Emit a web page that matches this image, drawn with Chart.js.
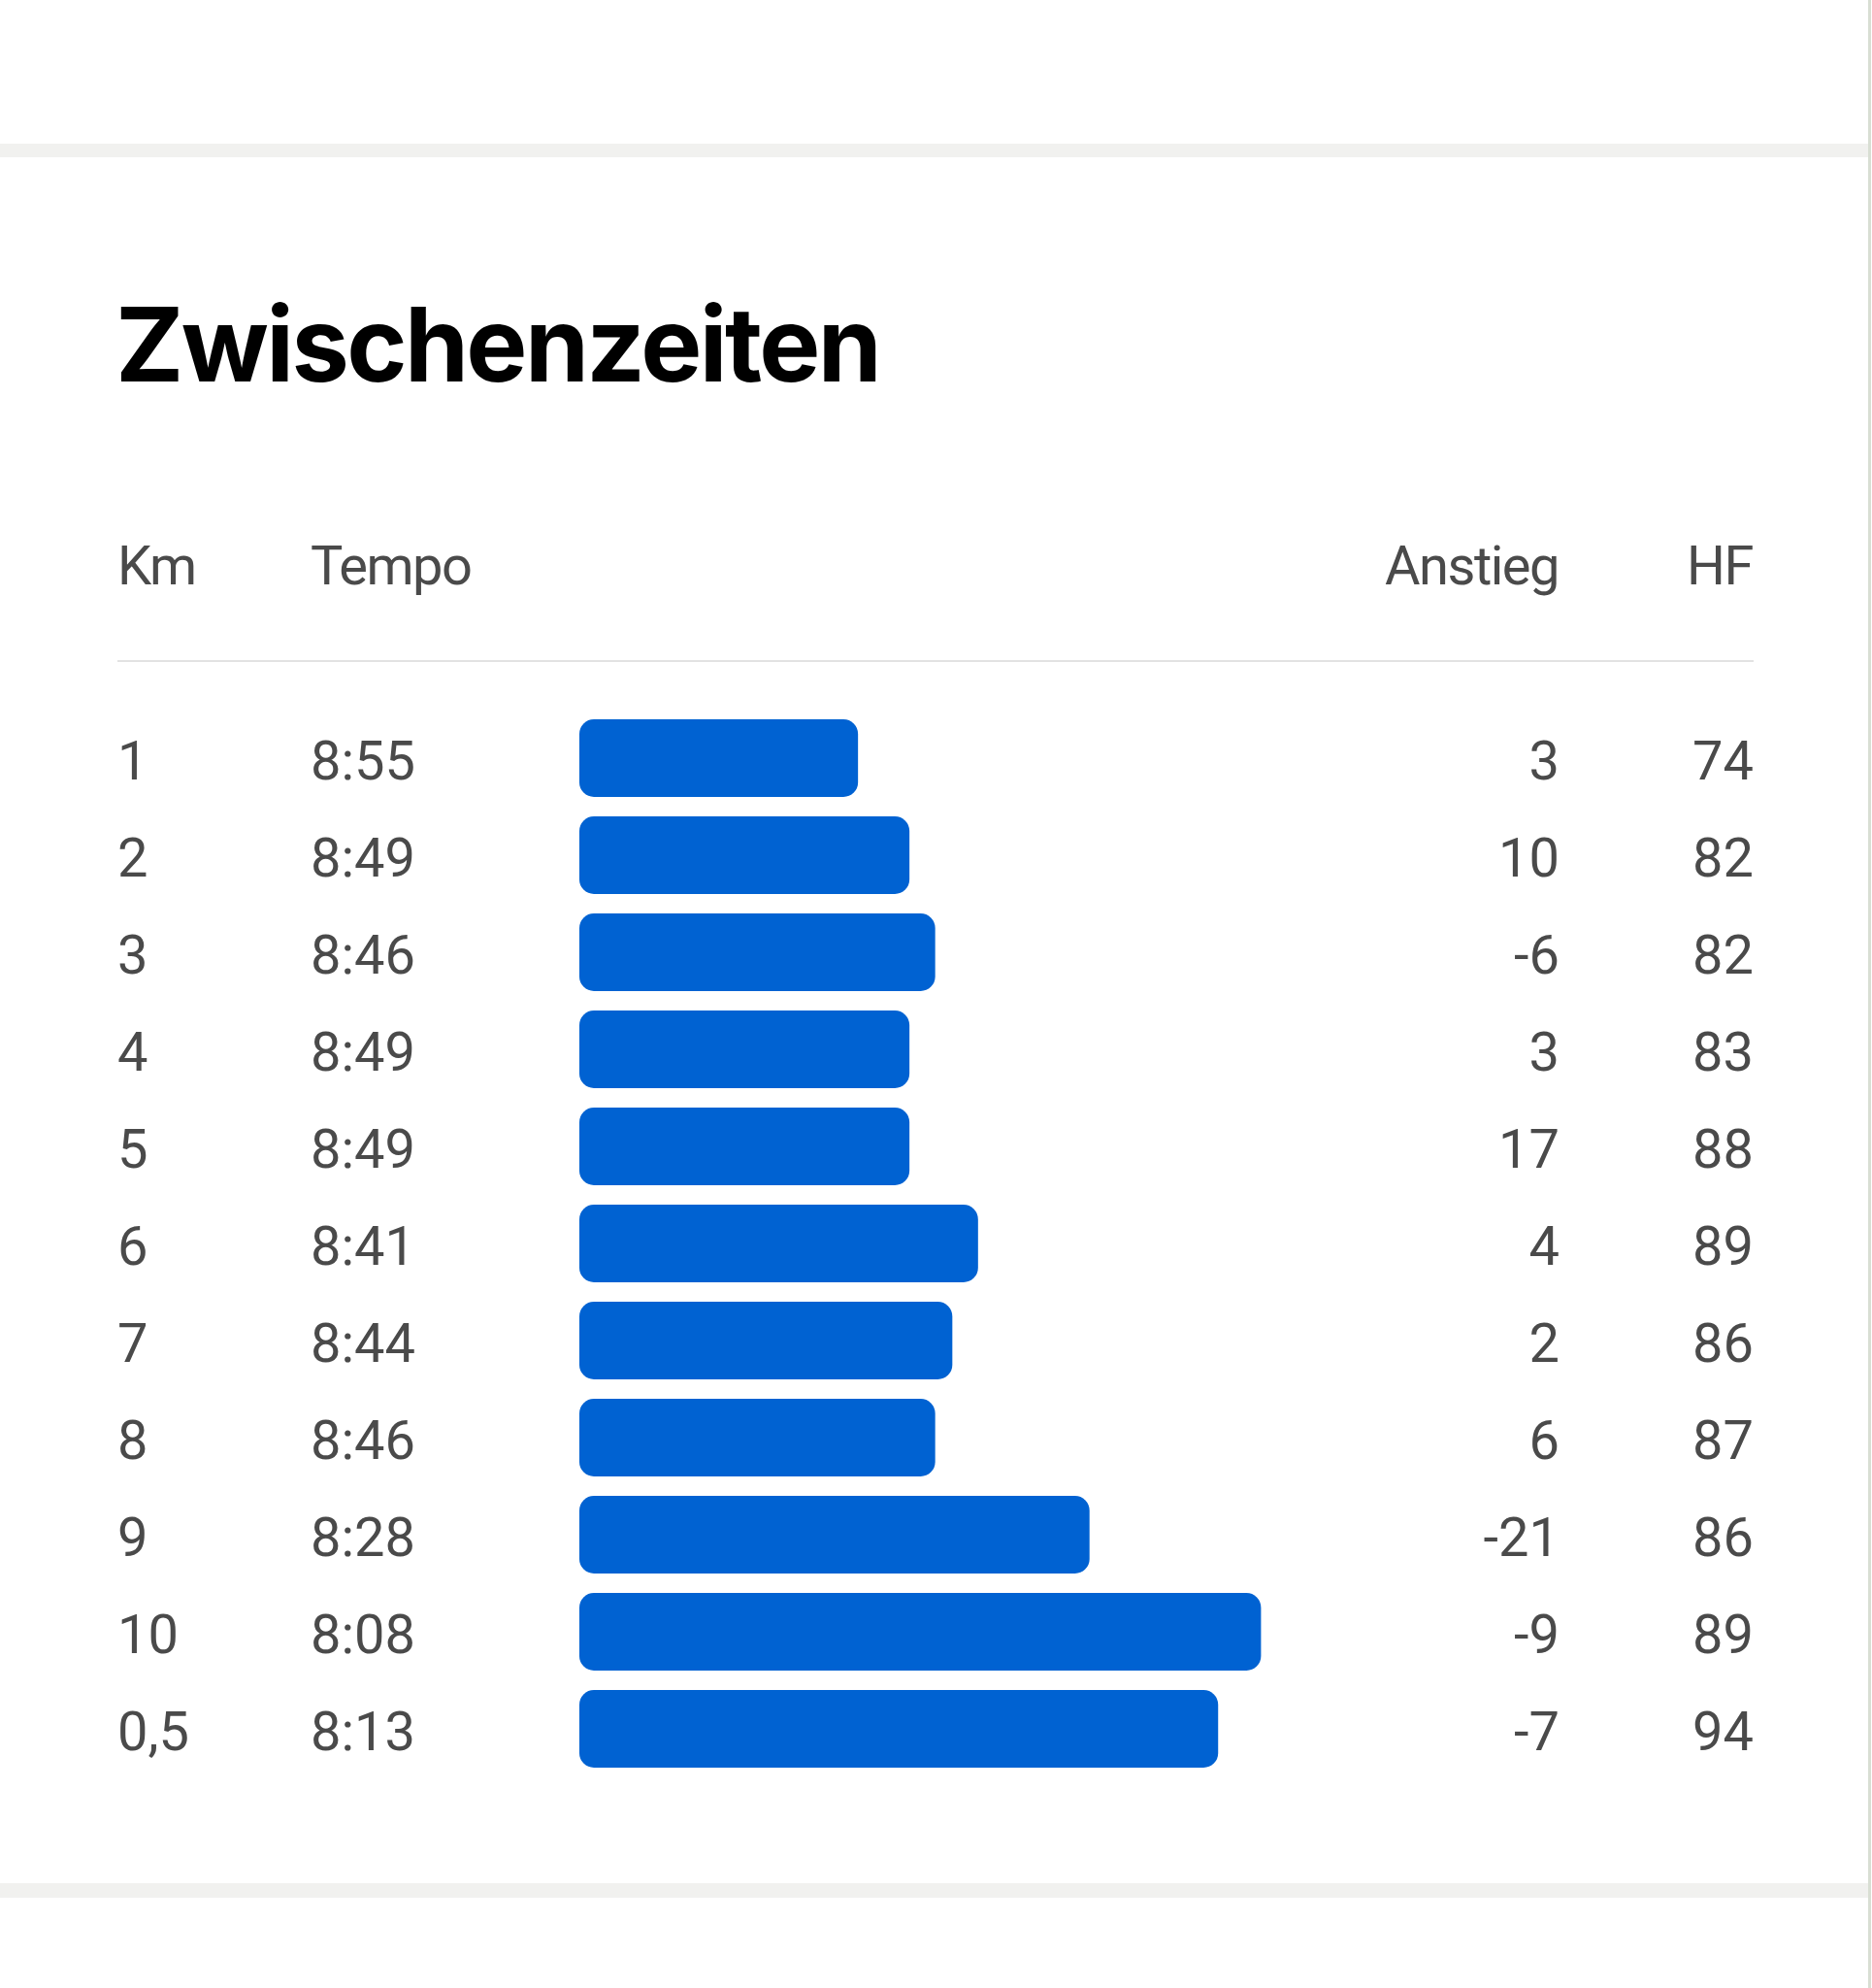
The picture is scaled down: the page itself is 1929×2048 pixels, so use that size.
<!DOCTYPE html>
<html lang="de">
<head>
    <meta charset="UTF-8">
    <title>Zwischenzeiten</title>
    <script src="https://cdn.jsdelivr.net/npm/chart.js"></script>
    <style>
        body {
            margin: 0;
            width: 1929px;
            height: 2048px;
            background: #fff;
            font-family: Roboto, "Noto Sans", sans-serif;
            position: relative;
            overflow: hidden;
        }
        .band {
            position: absolute;
            left: 0;
            width: 1925px;
            height: 14px;
            background: #f1f1ef;
        }
        .edge {
            position: absolute;
            left: 1925px;
            top: 0;
            width: 3px;
            height: 2048px;
            background: #d8ded3;
        }
        h1 {
            position: absolute;
            left: 119px;
            top: 302px;
            margin: 0;
            font-family: Inter, sans-serif;
            font-size: 106px;
            line-height: 106px;
            font-weight: 700;
            letter-spacing: -2.6px;
            color: #000;
        }
        .head {
            position: absolute;
            top: 555px;
            font-size: 56px;
            line-height: 56px;
            letter-spacing: -1.5px;
            color: #4a4a4a;
        }
        .divider {
            position: absolute;
            left: 121px;
            top: 680px;
            width: 1686px;
            height: 2px;
            background: #e2e2e2;
        }
        .chart-box {
            position: absolute;
            left: 121px;
            top: 731px;
            width: 1686px;
            height: 1100px;
        }
    </style>
</head>
<body>
    <div class="band" style="top:148px"></div>
    <div class="band" style="top:1940px;height:15px"></div>
    <div class="edge"></div>

    <h1>Zwischenzeiten</h1>

    <span class="head" style="left:121px">Km</span>
    <span class="head" style="left:320px">Tempo</span>
    <span class="head" style="right:323px">Anstieg</span>
    <span class="head" style="right:123px">HF</span>
    <div class="divider"></div>

    <div class="chart-box">
        <canvas id="splits"></canvas>
    </div>

    <script>
        const km = ['1', '2', '3', '4', '5', '6', '7', '8', '9', '10', '0,5'];
        const tempo = ['8:55', '8:49', '8:46', '8:49', '8:49', '8:41', '8:44', '8:46', '8:28', '8:08', '8:13'];
        const anstieg = [3, 10, -6, 3, 17, 4, 2, 6, -21, -9, -7];
        const hf = [74, 82, 82, 83, 88, 89, 86, 87, 86, 89, 94];

        // pace in seconds per km, read from the tempo column
        const paceSec = tempo.map(t => {
            const [m, s] = t.split(':');
            return Number(m) * 60 + Number(s);
        });

        const textFont = { family: 'Roboto', size: 56 };
        const textColor = '#4a4a4a';

        function column(labels, position, weight, width) {
            return {
                type: 'category',
                labels: labels.map(String),
                position: position,
                weight: weight,
                offset: true,
                grid: { display: false, drawTicks: false },
                border: { display: false },
                ticks: {
                    autoSkip: false,
                    padding: 0,
                    labelOffset: 8,
                    crossAlign: 'far',
                    color: textColor,
                    font: textFont
                },
                afterFit(scale) {
                    scale.width = width;
                    scale.paddingTop = 0;
                    scale.paddingBottom = 0;
                }
            };
        }

        new Chart(document.getElementById('splits'), {
            type: 'bar',
            data: {
                labels: km,
                datasets: [{
                    data: paceSec,
                    yAxisID: 'km',
                    base: 567.5,
                    backgroundColor: '#0062d2',
                    borderRadius: 15,
                    borderSkipped: false,
                    barPercentage: 0.8,
                    categoryPercentage: 1.0
                }]
            },
            options: {
                indexAxis: 'y',
                responsive: true,
                maintainAspectRatio: false,
                animation: false,
                devicePixelRatio: 1,
                layout: { padding: 0 },
                plugins: {
                    legend: { display: false },
                    tooltip: { enabled: false }
                },
                scales: {
                    x: {
                        type: 'linear',
                        display: false,
                        reverse: true,
                        min: 476.5,
                        max: 567.5
                    },
                    km: column(km, 'left', 10, 199),
                    tempo: column(tempo, 'left', 5, 277),
                    anstieg: column(anstieg, 'right', 5, 206),
                    hf: column(hf, 'right', 10, 200)
                }
            }
        });
    </script>
</body>
</html>
